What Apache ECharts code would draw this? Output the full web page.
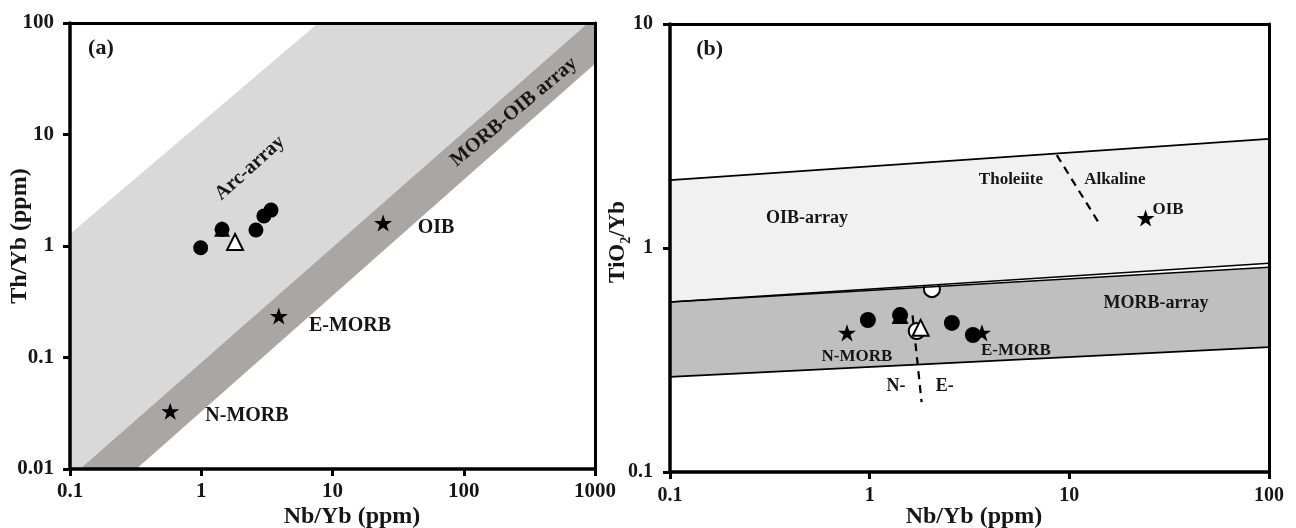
<!DOCTYPE html>
<html>
<head>
<meta charset="utf-8">
<script src="https://cdn.jsdelivr.net/npm/echarts@6/dist/echarts.min.js"></script>
<style>
  html, body { margin: 0; padding: 0; background: #fff; }
  #chart { width: 1296px; height: 528px; }
</style>
</head>
<body>
<div id="chart"></div>
<script>
// ---------- Panel (a): Th/Yb vs Nb/Yb ----------
const aXTicks = ['0.1', '1', '10', '100', '1000'];
const aYTicks = ['0.01', '0.1', '1', '10', '100'];
const aArcField = [[0.1, 1.28], [7.8, 100], [885, 100], [0.119, 0.01], [0.1, 0.01]];
const aMorbOibField = [[0.119, 0.01], [885, 100], [1000, 100], [1000, 43], [0.32, 0.01]];
const aCircles = [[0.99, 0.965], [1.44, 1.41], [2.61, 1.39], [3.0, 1.86], [3.4, 2.1]];
const aSolidTriangles = [[1.44, 1.43]];
const aOpenTriangles = [[1.81, 1.086]];
const aReference = [[0.58, 0.033], [3.9, 0.236], [24.3, 1.61]];   // N-MORB, E-MORB, OIB
const aNotes = [
  ['(a)', 0.172, 59.7], ['Arc-array', 2.35, 5.0], ['MORB-OIB array', 241, 15.9],
  ['OIB', 61.5, 1.45], ['E-MORB', 13.6, 0.192], ['N-MORB', 2.23, 0.0299]
];

// ---------- Panel (b): TiO2/Yb vs Nb/Yb ----------
const bXTicks = ['0.1', '1', '10', '100'];
const bYTicks = ['0.1', '1', '10'];
const bOibUpper = [[0.1, 2.01], [100, 3.07]];
const bOibLower = [[0.1, 0.574], [100, 0.855]];
const bMorbUpper = [[0.1, 0.574], [100, 0.82]];
const bMorbLower = [[0.1, 0.266], [100, 0.361]];
const bThAlkDivide = [[8.65, 2.6], [14.4, 1.25]];
const bNEDivide = [[1.64, 0.50], [1.82, 0.205]];
const bCircles = [[0.98, 0.477], [1.42, 0.502], [2.58, 0.463], [3.29, 0.409]];
const bSolidTriangles = [[1.42, 0.50]];
const bOpenCircles = [[1.72, 0.426]];
const bOpenCircleAtEdge = [[2.05, 0.655]];
const bOpenTriangles = [[1.80, 0.44]];
const bReference = [[0.77, 0.418], [3.65, 0.418], [24.1, 1.36]];   // N-MORB, E-MORB, OIB
const bNotes = [
  ['(b)', 0.158, 7.73], ['OIB-array', 0.485, 1.35], ['Tholeiite', 5.1, 2.01],
  ['Alkaline', 16.9, 2.03], ['OIB', 31.2, 1.48], ['MORB-array', 27.2, 0.568],
  ['E-MORB', 5.4, 0.35], ['N-MORB', 0.864, 0.326], ['N-', 1.354, 0.242], ['E-', 2.38, 0.242]
];

const FONT = '"Liberation Serif", "Times New Roman", serif';
const INK = '#161616';
const STAR = 'path://M50,0 L61.8,35.5 L98.9,35.5 L69,57.3 L80.4,92.7 L50,70.8 L19.6,92.7 L31,57.3 L1.1,35.5 L38.2,35.5 Z';
const noteAngle = { 'Arc-array': 42, 'MORB-OIB array': 40 };
const noteSize = { '(a)': 22, '(b)': 22, 'N-': 18, 'E-': 18, 'OIB-array': 18, 'MORB-array': 18 };

function tickText(list) {
  return v => {
    const hit = list.find(t => Math.abs(Math.log10(+t) - Math.log10(v)) < 1e-6);
    return hit === undefined ? '' : hit;
  };
}

function mainAxis(kind, grid, min, max, ticks, fontSize, margin) {
  return {
    type: 'log', logBase: 10, gridIndex: grid, min, max,
    position: kind === 'x' ? 'bottom' : 'left',
    axisLine: { show: true, onZero: false, lineStyle: { color: '#000', width: 3.5 } },
    axisTick: { show: true, inside: false, length: 7, lineStyle: { color: '#000', width: 3 } },
    minorTick: { show: false },
    splitLine: { show: false },
    axisLabel: {
      show: true, margin, formatter: tickText(ticks),
      fontFamily: FONT, fontWeight: 'bold', fontSize, color: INK,
      showMinLabel: true, showMaxLabel: true
    },
    z: 8
  };
}

function frameAxis(kind, grid, min, max) {
  return {
    type: 'log', logBase: 10, gridIndex: grid, min, max,
    position: kind === 'x' ? 'top' : 'right',
    axisLine: { show: true, onZero: false, lineStyle: { color: '#000', width: 3 } },
    axisTick: { show: false }, axisLabel: { show: false },
    splitLine: { show: false }, minorTick: { show: false },
    z: 8
  };
}

function field(points, xi, yi, fill, z) {
  return {
    type: 'custom', xAxisIndex: xi, yAxisIndex: yi, data: points, silent: true, z,
    renderItem: (params, api) => params.dataIndex === 0
      ? { type: 'polygon', shape: { points: points.map(p => api.coord(p)) }, style: { fill } }
      : null
  };
}

function boundary(points, xi, yi, dashed) {
  return {
    type: 'line', xAxisIndex: xi, yAxisIndex: yi, data: points, symbol: 'none', silent: true, z: 4,
    lineStyle: dashed ? { color: '#000', width: 2.2, type: [8, 6] } : { color: '#000', width: 1.6 }
  };
}

function marks(points, xi, yi, symbol, size, fill, border, z) {
  return {
    type: 'scatter', xAxisIndex: xi, yAxisIndex: yi, data: points, symbol, symbolSize: size,
    symbolKeepAspect: true, silent: true, z: z || 5,
    itemStyle: { color: fill, borderColor: border || fill, borderWidth: border ? 2 : 0, opacity: 1 }
  };
}

function notes(list, xi, yi, fontSize) {
  return {
    type: 'custom', xAxisIndex: xi, yAxisIndex: yi, silent: true, z: 6,
    data: list.map(n => [n[1], n[2]]),
    renderItem: (params, api) => {
      const n = list[params.dataIndex];
      const p = api.coord([n[1], n[2]]);
      return {
        type: 'text', x: p[0], y: p[1],
        rotation: (noteAngle[n[0]] || 0) * Math.PI / 180,
        style: {
          text: n[0], fontFamily: FONT, fontWeight: 'bold',
          fontSize: noteSize[n[0]] || fontSize, fill: INK,
          align: 'center', verticalAlign: 'middle'
        }
      };
    }
  };
}

const chart = echarts.init(document.getElementById('chart'), null, { renderer: 'canvas' });

chart.setOption({
  animation: false,
  backgroundColor: '#fff',
  grid: [
    { left: 70, top: 23, width: 525, height: 446, containLabel: false },
    { left: 670, top: 24, width: 599, height: 448, containLabel: false }
  ],
  xAxis: [
    mainAxis('x', 0, 0.1, 1000, aXTicks, 21, 12),
    frameAxis('x', 0, 0.1, 1000),
    mainAxis('x', 1, 0.1, 100, bXTicks, 20, 14),
    frameAxis('x', 1, 0.1, 100)
  ],
  yAxis: [
    mainAxis('y', 0, 0.01, 100, aYTicks, 21, 16),
    frameAxis('y', 0, 0.01, 100),
    mainAxis('y', 1, 0.1, 10, bYTicks, 20, 17),
    frameAxis('y', 1, 0.1, 10)
  ],
  graphic: [
    { type: 'text', x: 352, y: 517, style: { text: 'Nb/Yb (ppm)', font: 'bold 24px ' + FONT, fill: INK, align: 'center', verticalAlign: 'middle' } },
    { type: 'text', x: 974, y: 517, style: { text: 'Nb/Yb (ppm)', font: 'bold 24px ' + FONT, fill: INK, align: 'center', verticalAlign: 'middle' } },
    { type: 'text', x: 20, y: 236, rotation: Math.PI / 2, style: { text: 'Th/Yb (ppm)', font: 'bold 24px ' + FONT, fill: INK, align: 'center', verticalAlign: 'middle' } },
    {
      type: 'text', x: 618, y: 242, rotation: Math.PI / 2,
      style: {
        text: '{n|TiO}{s|2}{n|/Yb}', align: 'center', verticalAlign: 'middle',
        rich: {
          n: { fontFamily: FONT, fontWeight: 'bold', fontSize: 23, fill: INK, verticalAlign: 'bottom' },
          s: { fontFamily: FONT, fontWeight: 'bold', fontSize: 14, fill: INK, verticalAlign: 'bottom', padding: [0, 0, -4, 0] }
        }
      }
    }
  ],
  series: [
    // panel (a)
    field(aArcField, 0, 0, '#d9d9d9', 1),
    field(aMorbOibField, 0, 0, '#a9a6a4', 1),
    marks(aSolidTriangles, 0, 0, 'triangle', 16, '#000'),
    marks(aCircles, 0, 0, 'circle', 15, '#000'),
    marks(aOpenTriangles, 0, 0, 'triangle', 16, '#fff', '#000'),
    marks(aReference, 0, 0, STAR, 18, '#000'),
    notes(aNotes, 0, 0, 20),
    // panel (b): the MORB field, then the circle sitting on its upper edge,
    // then the OIB field drawn over the circle's top half
    field(bMorbUpper.concat(bMorbLower.slice().reverse()), 2, 2, '#bfbfbf', 1),
    marks(bOpenCircleAtEdge, 2, 2, 'circle', 16, '#fff', '#000', 2),
    field(bOibUpper.concat(bOibLower.slice().reverse()), 2, 2, '#f1f1f1', 3),
    boundary(bOibUpper, 2, 2),
    boundary(bOibLower, 2, 2),
    boundary(bMorbUpper, 2, 2),
    boundary(bMorbLower, 2, 2),
    boundary(bThAlkDivide, 2, 2, true),
    boundary(bNEDivide, 2, 2, true),
    marks(bSolidTriangles, 2, 2, 'triangle', 17, '#000'),
    marks(bCircles, 2, 2, 'circle', 16, '#000'),
    marks(bOpenCircles, 2, 2, 'circle', 16, '#fff', '#000'),
    marks(bOpenTriangles, 2, 2, 'triangle', 16, '#fff', '#000'),
    marks(bReference, 2, 2, STAR, 18, '#000'),
    notes(bNotes, 2, 2, 17)
  ]
});
</script>
</body>
</html>
